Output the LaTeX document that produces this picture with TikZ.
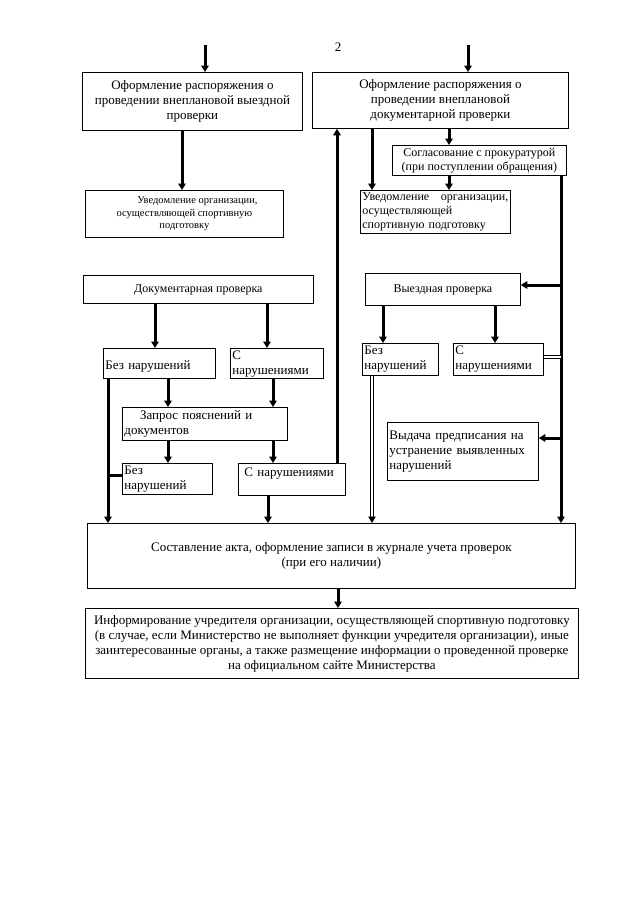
\documentclass[tikz,border=0pt]{standalone}
\usepackage{fontspec}
\setmainfont{Liberation Serif}
\usetikzlibrary{arrows.meta,calc}

\begin{document}
\begin{tikzpicture}[x=1pt,y=-1pt,
  box/.style={draw,line width=0.8pt,anchor=north west,inner sep=2pt},
  fA/.style={font=\fontsize{13}{15}\selectfont},
  fB/.style={font=\fontsize{12}{14}\selectfont},
  fC/.style={font=\fontsize{10.5}{12.5}\selectfont},
  ar/.style={-{Triangle[length=6.5pt,width=7.5pt]},line width=3pt},
  ln/.style={line width=3pt},
  dbl/.style={double,double distance=1.4pt,line width=0.9pt}]
\useasboundingbox (0,0) rectangle (640,905);
% ---- page number and entries
\node[fA] (pnum) at (338,47) {2};
\coordinate (inA) at (205,45);
\coordinate (inB) at (468,45);
% ---- top row
\node[box,fA,align=center,minimum width=220pt,minimum height=58pt] (ordA) at (82,72) {Оформление распоряжения о\\проведении внеплановой выездной\\проверки};
\node[box,fA,align=center,minimum width=256pt,minimum height=56pt] (ordB) at (312,72) {Оформление распоряжения о\\проведении внеплановой\\документарной проверки};
\node[box,fB,align=center,minimum width=174pt,minimum height=30pt] (sogl) at (392,145) {Согласование с прокуратурой\\(при поступлении обращения)};
\node[box,fC,align=center,minimum width=198pt,minimum height=47pt] (uvA) at (85,190) {\hspace*{2.5em}Уведомление организации,\\осуществляющей спортивную\\подготовку};
\node[box,fB,align=left,text width=146pt,minimum height=43pt] (uvB) at (360,190) {Уведомление\hfill организации,\\осуществляющей\\спортивную подготовку};
% ---- documentary check
\node[box,fB,align=center,minimum width=230pt,minimum height=28pt] (dok) at (83,275) {Документарная проверка};
\node[box,fA,align=left,text width=108pt,minimum height=30pt] (bezA) at (103,348) {\mbox{}\\Без нарушений};
\node[box,fA,align=left,text width=89pt,minimum height=30pt] (narA) at (230,348) {С\\нарушениями};
\node[box,fA,align=left,text width=161pt,minimum height=33pt] (zapr) at (122,407) {\hspace*{1.2em}Запрос пояснений и\\документов};
\node[box,fA,align=left,text width=86pt,minimum height=31pt] (bezB) at (122,463) {Без\\нарушений};
\node[box,fA,align=left,text width=103pt,minimum height=32pt] (narB) at (238,463) {\hspace*{0.3em}С нарушениями\\\mbox{}};
% ---- field check
\node[box,fB,align=center,minimum width=155pt,minimum height=32pt] (vyezd) at (365,273) {Выездная проверка};
\node[box,fA,align=left,text width=72pt,minimum height=32pt] (bezC) at (362,343) {Без\\нарушений};
\node[box,fA,align=left,text width=86pt,minimum height=32pt] (narC) at (453,343) {С\\нарушениями};
\node[box,fA,align=left,text width=147pt,minimum height=58pt] (vyd) at (387,422) {Выдача предписания на\\устранение выявленных\\нарушений};
% ---- result
\node[box,fA,align=center,minimum width=488pt,minimum height=65pt] (akt) at (87,523) {Составление акта, оформление записи в журнале учета проверок\\(при его наличии)};
\node[box,fA,align=center,minimum width=493pt,minimum height=70pt] (inf) at (85,608) {Информирование учредителя организации, осуществляющей спортивную подготовку\\(в случае, если Министерство не выполняет функции учредителя организации), иные\\заинтересованные органы, а также размещение информации о проведенной проверке\\на официальном сайте Министерства};
% ---- columns and rows of the connectors
\coordinate (cA) at (182,0);
\coordinate (cB) at (372,0);
\coordinate (cC) at (449,0);
\coordinate (cD) at (561,0);
\coordinate (cE) at (155,0);
\coordinate (cF) at (267,0);
\coordinate (cG) at (108,0);
\coordinate (cH) at (168,0);
\coordinate (cI) at (273,0);
\coordinate (cJ) at (268,0);
\coordinate (cK) at (337,0);
\coordinate (cL) at (383,0);
\coordinate (cM) at (495,0);
\coordinate (cN) at (338,0);
\coordinate (rA) at (0,285);
\coordinate (rB) at (0,357);
\coordinate (rC) at (0,438);
\coordinate (rD) at (0,475);
% ---- connectors
\draw[ar] (inA) -- (inA |- ordA.north);
\draw[ar] (inB) -- (inB |- ordB.north);
\draw[ar] (ordA.south -| cA) -- (uvA.north -| cA);
\draw[ar] (ordB.south -| cB) -- (uvB.north -| cB);
\draw[ar] (ordB.south -| cC) -- (sogl.north -| cC);
\draw[ar] (sogl.south -| cC) -- (uvB.north -| cC);
\draw[ar] (dok.south -| cE) -- (bezA.north -| cE);
\draw[ar] (dok.south -| cF) -- (narA.north -| cF);
\draw[ar] (bezA.south -| cH) -- (zapr.north -| cH);
\draw[ar] (narA.south -| cI) -- (zapr.north -| cI);
\draw[ar] (zapr.south -| cH) -- (bezB.north -| cH);
\draw[ar] (zapr.south -| cI) -- (narB.north -| cI);
\draw[ar] (bezA.south -| cG) -- (akt.north -| cG);
\draw[ln] (bezB.west |- rD) -- (cG |- rD);
\draw[ar] (narB.south -| cJ) -- (akt.north -| cJ);
\draw[ar] (narB.north -| cK) -- (ordB.south -| cK);
\draw[ar] (vyezd.south -| cL) -- (bezC.north -| cL);
\draw[ar] (vyezd.south -| cM) -- (narC.north -| cM);
\draw[dbl,-{Triangle[length=6.5pt,width=7.5pt]}] (bezC.south -| cB) -- (akt.north -| cB);
\draw[ar] (sogl.south -| cD) -- (akt.north -| cD);
\draw[ar] (cD |- rA) -- (vyezd.east |- rA);
\draw[dbl] (narC.east |- rB) -- (cD |- rB);
\draw[ar] (cD |- rC) -- (vyd.east |- rC);
\draw[ar] (akt.south -| cN) -- (inf.north -| cN);
\end{tikzpicture}
\end{document}
